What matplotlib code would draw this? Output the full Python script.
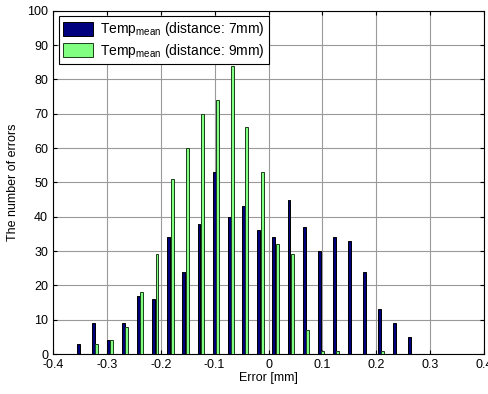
import numpy as np
import matplotlib.pyplot as plt

plt.rcParams['font.family'] = ['Liberation Sans', 'DejaVu Sans']

# bin centers [mm] and counts per bin
bin_centers = [-0.350, -0.322, -0.294, -0.266, -0.238, -0.210, -0.182, -0.154,
               -0.126, -0.098, -0.070, -0.043, -0.015, 0.013, 0.041, 0.069,
               0.097, 0.125, 0.153, 0.181, 0.209, 0.237, 0.265]
count_7mm = [3, 9, 4, 9, 17, 16, 34, 24, 38, 53, 40, 43, 36, 34, 45, 37,
             30, 34, 33, 24, 13, 9, 5]
count_9mm = [0, 3, 4, 8, 18, 29, 51, 60, 70, 74, 84, 66, 53, 32, 29, 7,
             1, 1, 0, 0, 1, 0, 0]

x = np.array(bin_centers)
off = 0.003
w = 0.0055

fig = plt.figure(figsize=(4.89, 3.94), dpi=100)
ax = fig.add_axes([0.1084, 0.1015, 0.8814, 0.8713])

ax.bar(x - off, count_7mm, width=w, color='#00007f', edgecolor='black',
       linewidth=0.7, label=r'Temp$_{\mathregular{mean}}$ (distance: 7mm)', zorder=3)
ax.bar(x + off, count_9mm, width=w, color='#80ff80', edgecolor='#1a401a',
       linewidth=0.7, label=r'Temp$_{\mathregular{mean}}$ (distance: 9mm)', zorder=3)

ax.set_xlim(-0.4, 0.4)
ax.set_ylim(0, 100)
ax.set_xticks(np.arange(-0.4, 0.41, 0.1))
ax.set_xticklabels(['-0.4', '-0.3', '-0.2', '-0.1', '0', '0.1', '0.2', '0.3', '0.4'])
ax.set_yticks(np.arange(0, 101, 10))
ax.tick_params(direction='in', top=True, right=True, labelsize=9, length=3, width=0.8)
ax.grid(True, color='#9a9a9a', linewidth=0.8, zorder=0)
ax.set_axisbelow(True)
for s in ax.spines.values():
    s.set_linewidth(0.8)

ax.set_xlabel('Error [mm]', fontsize=9, labelpad=1)
ax.set_ylabel('The number of errors', fontsize=9, labelpad=6)

leg = ax.legend(loc='upper left', fontsize=10, frameon=True, fancybox=False,
                edgecolor='black', framealpha=1, borderaxespad=0.4,
                handlelength=2.2, handleheight=1.2, borderpad=0.3, labelspacing=0.25,
                handletextpad=0.5)
leg.get_frame().set_linewidth(0.8)

fig.savefig('out.png', dpi=100)
